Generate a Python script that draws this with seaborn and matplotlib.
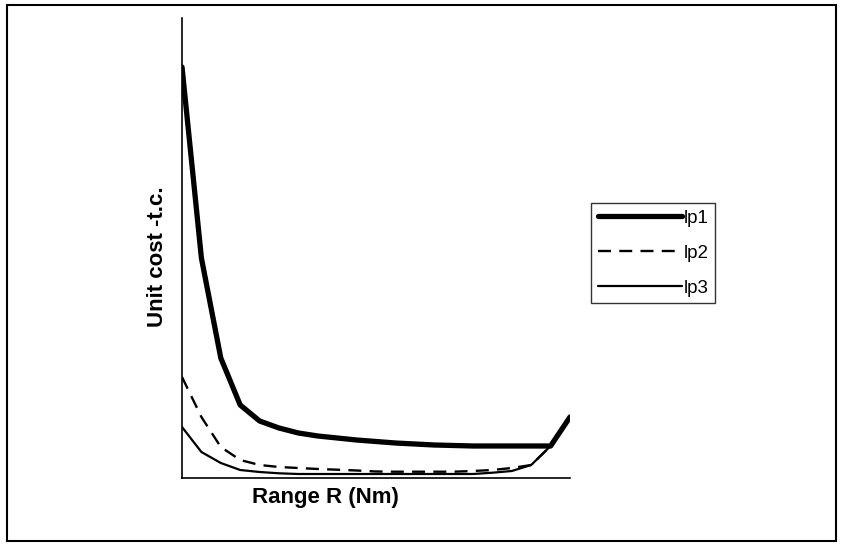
import numpy as np
import pandas as pd
import matplotlib
matplotlib.use("Agg")
import matplotlib.pyplot as plt
import seaborn as sns
from matplotlib.patches import Rectangle

# Data (arbitrary units)
range_idx = list(range(21))
lp1 = [411, 220, 120, 73, 57, 50, 45, 42, 40, 38, 36.5, 35, 34, 33, 32.5, 32, 32, 32, 32, 32, 61]
lp2 = [101, 61, 31, 18, 13, 11, 10, 9, 8.3, 7.5, 6.5, 6.3, 6.3, 6.3, 6.3, 7, 8, 10, 13, 32]
lp3 = [51, 26, 15, 8, 6, 4.7, 4, 4, 4, 4, 4, 4, 4, 4, 4, 4, 5.3, 7, 13, 32]
series_names = ["lp1", "lp2", "lp3"]

sns.set_style("white")
plt.rcParams['font.family'] = ['Liberation Sans', 'DejaVu Sans']
plt.rcParams['text.color'] = 'black'
plt.rcParams['axes.labelcolor'] = 'black'

fig = plt.figure(figsize=(8.42, 5.45), dpi=100)
W, H = 842, 545
ax = fig.add_axes([182 / W, 1 - 478 / H, (570 - 182) / W, (478 - 18) / H])

rows = []
for name, vals in zip(series_names, [lp1, lp2, lp3]):
    for x, v in zip(range_idx, vals):
        rows.append({"R": x, "cost": v, "series": name})
df = pd.DataFrame(rows)

styles = {
    "lp1": dict(lw=3.8, ls="-"),
    "lp2": dict(lw=1.7, ls=(0, (5.5, 3.5))),
    "lp3": dict(lw=1.6, ls="-"),
}
for name in series_names:
    sub = df[df["series"] == name]
    sns.lineplot(data=sub, x="R", y="cost", ax=ax, color="black",
                 linewidth=styles[name]["lw"], linestyle=styles[name]["ls"],
                 label=name, solid_capstyle="round", solid_joinstyle="round")

ax.set_xlim(0, 20)
ax.set_ylim(0, 460)
ax.set_xticks([])
ax.set_yticks([])
for s in ["top", "right"]:
    ax.spines[s].set_visible(False)
for s in ["left", "bottom"]:
    ax.spines[s].set_color("black")
    ax.spines[s].set_linewidth(1.2)

axw, axh = 570 - 182, 478 - 18
ax.set_xlabel("Range R (Nm)", fontsize=16, fontweight="bold", color="black")
ax.set_ylabel("Unit cost -t.c.", fontsize=16, fontweight="bold", color="black")
ax.xaxis.set_label_coords((325 - 182) / axw, -(487 - 478) / axh)
ax.yaxis.set_label_coords(-(182 - 168) / axw, (478 - 257) / axh)

leg = ax.legend(loc="upper left", bbox_to_anchor=(591 / W, 1 - 203 / H),
                bbox_transform=fig.transFigure, frameon=True, fancybox=False,
                edgecolor="black", fontsize=13.5, handlelength=4.5,
                handletextpad=0.1, borderpad=0.35, labelspacing=0.95,
                borderaxespad=0, labelcolor="black")
leg.get_frame().set_linewidth(1.0)

# outer scanned frame
fig.patches.append(Rectangle((7 / W, 1 - 541 / H), (836 - 7) / W, (541 - 5) / H,
                             transform=fig.transFigure, fill=False,
                             edgecolor="black", linewidth=1.5))

fig.savefig("out.png", dpi=100)
